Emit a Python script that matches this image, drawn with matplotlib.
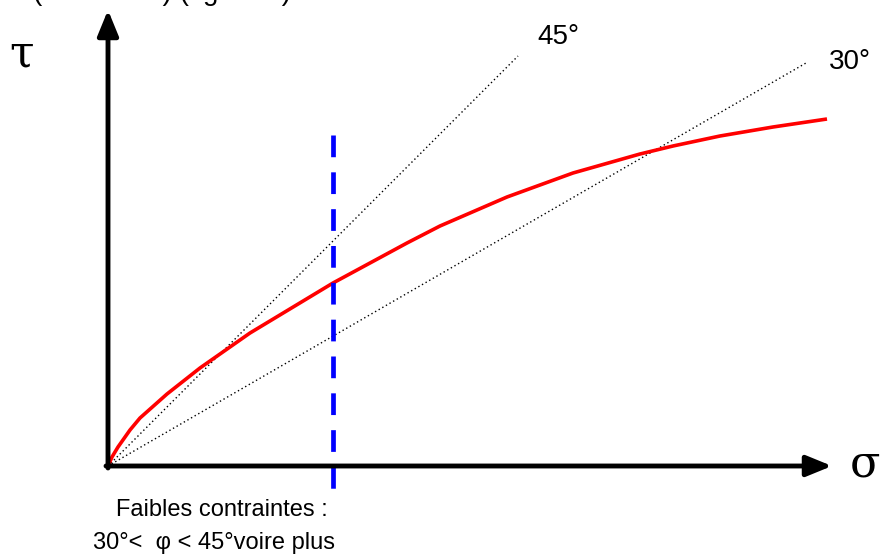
import numpy as np
import matplotlib
matplotlib.use("Agg")
import matplotlib.pyplot as plt

# ---- data (σ, τ in drawing units) ----
curve_sigma = [0, 4, 10, 22, 32, 59, 92, 142, 225, 299, 332, 399, 465, 532, 565, 612, 665, 719]
curve_tau = [0, 9, 19, 36, 48, 72, 98, 133, 183, 223, 240, 269, 293, 312, 320, 330, 339, 347]
friction_angles = [45, 30]
friction_labels = ["45°", "30°"]
friction_sigma_end = [410, 698]
low_stress_sigma = 225
low_stress_tau_range = [331, -24]
x_axis_end = 724
y_axis_end = 456

W, H = 881, 557
ox, oy = 108, 466

fig = plt.figure(figsize=(W / 100, H / 100), dpi=100)
ax = fig.add_axes([0, 0, 1, 1])
ax.set_xlim(-ox, W - ox)
ax.set_ylim(-(H - oy), oy)
ax.axis("off")

# friction lines
for ang, s_end in zip(friction_angles, friction_sigma_end):
    s = np.array([0, s_end])
    ax.plot(s, s * np.tan(np.radians(ang)), color="black", lw=1.0,
            linestyle=(0, (1, 2)), zorder=2)

# envelope
ax.plot(curve_sigma, curve_tau, color="#ff0000", lw=2.6, zorder=3,
        solid_capstyle="butt", solid_joinstyle="round")

# low stress boundary
ax.plot([low_stress_sigma, low_stress_sigma], low_stress_tau_range,
        color="#0000ff", lw=3.4, linestyle=(0, (4.6, 3.2)), zorder=4,
        dash_capstyle="butt")

# axes arrows
arrow_kw = dict(arrowstyle="-|>,head_length=1.1,head_width=0.45", color="black",
                lw=3.5, shrinkA=0, shrinkB=0, mutation_scale=14)
ax.annotate("", xy=(x_axis_end, 0), xytext=(-2, 0), arrowprops=arrow_kw, zorder=5)
ax.annotate("", xy=(0, y_axis_end), xytext=(0, -2), arrowprops=arrow_kw, zorder=5)

# labels
ax.text(-86, 412, "τ", fontsize=32, family="DejaVu Serif", ha="center", va="center")
ax.text(757, 2, "σ", fontsize=32, family="DejaVu Serif", ha="center", va="center")
ax.text(450, 429, friction_labels[0], fontsize=20, family="Liberation Sans",
        ha="center", va="center")
ax.text(742, 404, friction_labels[1], fontsize=20, family="Liberation Sans",
        ha="center", va="center")
ax.text(114, -44, "Faibles contraintes :", fontsize=17, family="Liberation Sans",
        ha="center", va="center")
ax.text(106, -77, "30°<  φ < 45°voire plus", fontsize=17, family="Liberation Sans",
        ha="center", va="center")
ax.text(-75, 466, "(Barton 73) (figure 4)", fontsize=20, family="Liberation Sans",
        ha="left", va="baseline")

fig.savefig("out.png", dpi=100)
